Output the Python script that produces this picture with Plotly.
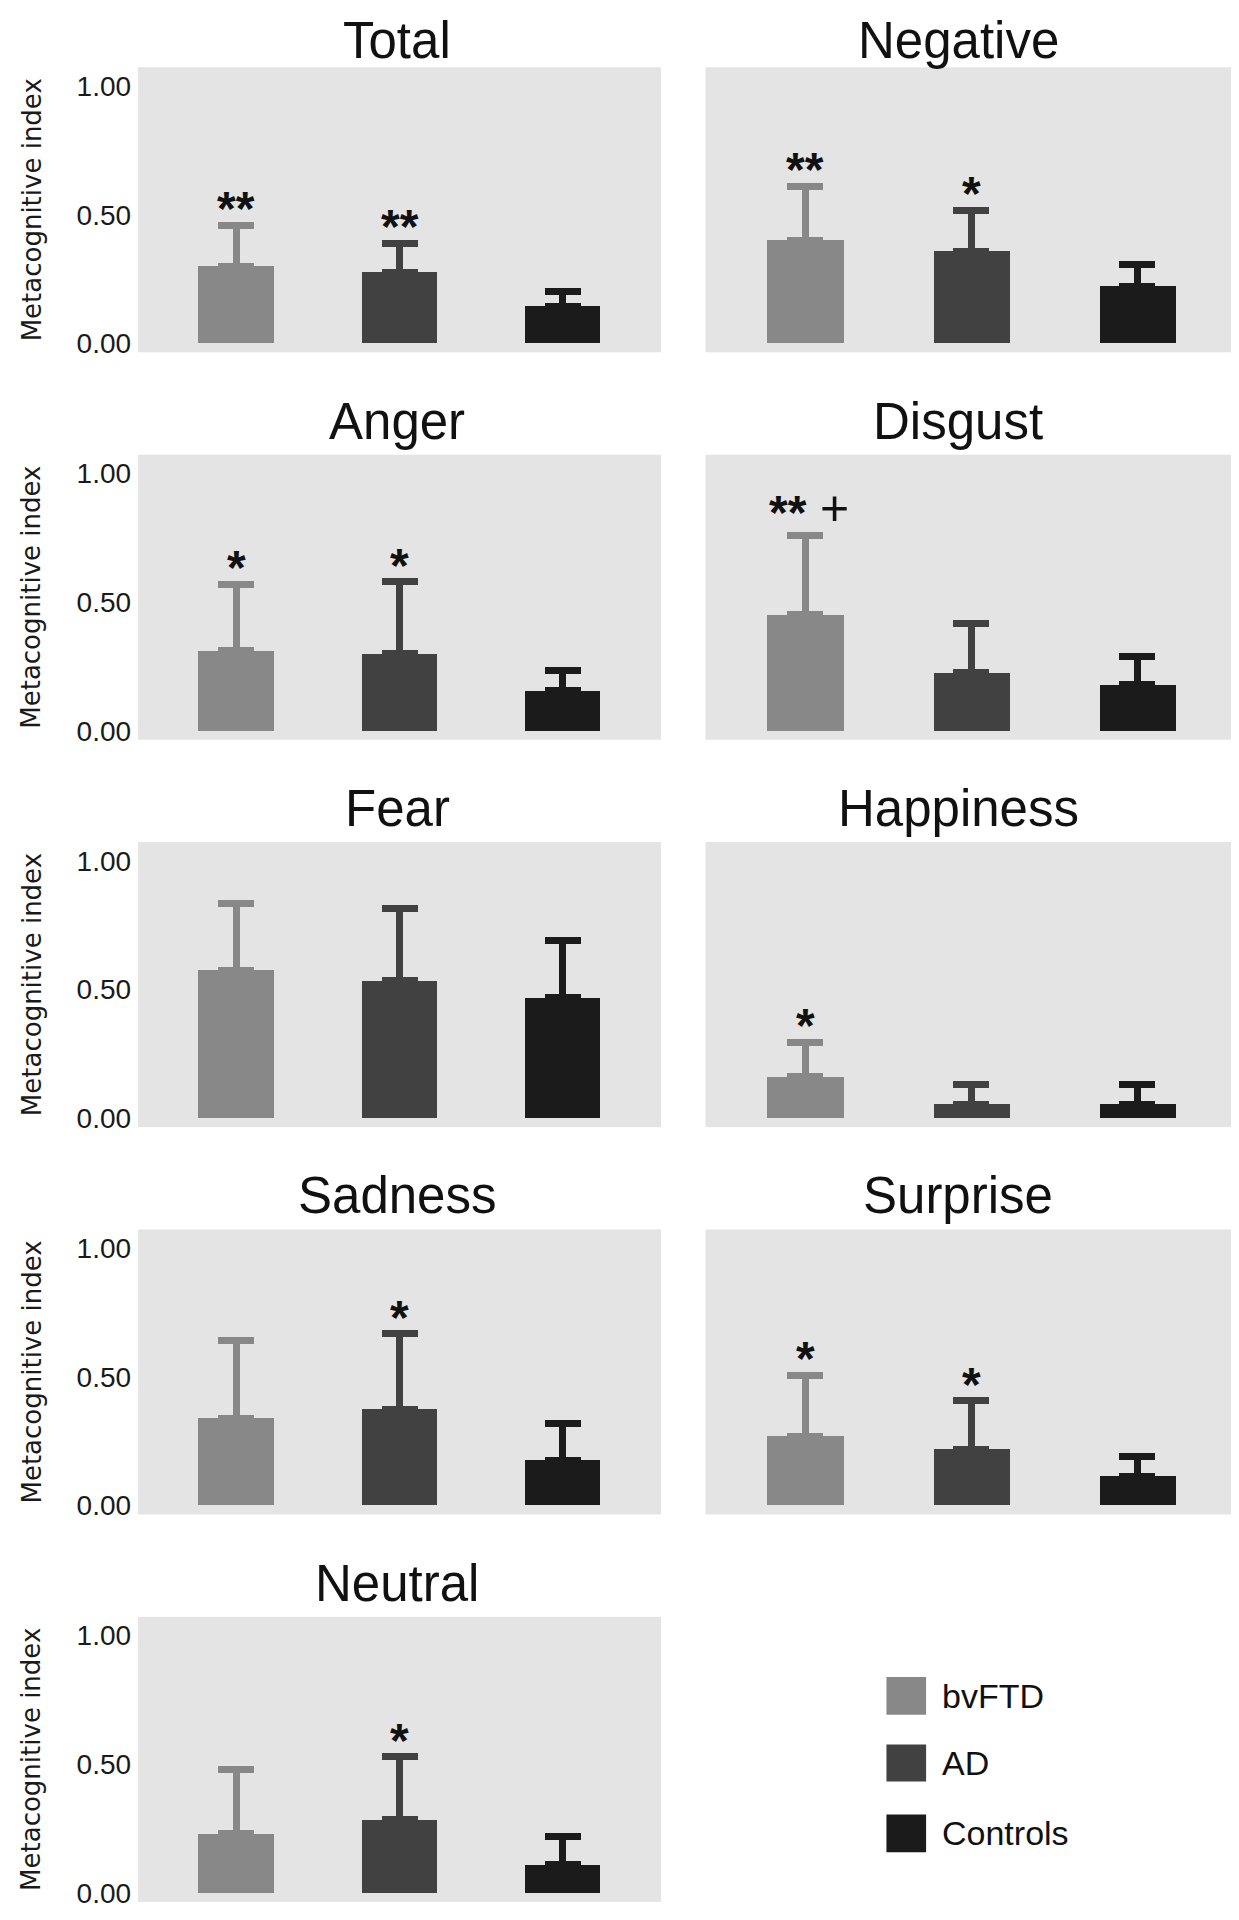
import plotly.graph_objects as go

# ---------------- data ----------------
categories = ["Total", "Negative", "Anger", "Disgust", "Fear",
              "Happiness", "Sadness", "Surprise", "Neutral"]
groups = ["bvFTD", "AD", "Controls"]

bvftd_mean = [0.30, 0.40, 0.31, 0.45, 0.575, 0.16, 0.34, 0.267, 0.23]
bvftd_err = [0.16, 0.21, 0.26, 0.31, 0.26, 0.135, 0.30, 0.24, 0.25]
ad_mean = [0.275, 0.357, 0.30, 0.225, 0.533, 0.053, 0.373, 0.218, 0.285]
ad_err = [0.115, 0.16, 0.28, 0.19, 0.28, 0.077, 0.295, 0.19, 0.245]
ctrl_mean = [0.145, 0.222, 0.156, 0.18, 0.467, 0.053, 0.175, 0.113, 0.11]
ctrl_err = [0.055, 0.085, 0.08, 0.11, 0.225, 0.077, 0.145, 0.078, 0.108]

bvftd_sig = ["**", "**", "*", "** +", "", "*", "", "*", ""]
ad_sig = ["**", "*", "*", "", "", "", "*", "*", "*"]
ctrl_sig = ["", "", "", "", "", "", "", "", ""]

tick_vals = [0, 0.5, 1.0]
tick_text = ["0.00", "0.50", "1.00"]
y_title = "Metacognitive index"

# ---------------- styles ----------------
colors = ["#888888", "#414141", "#1b1b1b"]
bg = "#e4e4e4"
means = [bvftd_mean, ad_mean, ctrl_mean]
errs = [bvftd_err, ad_err, ctrl_err]
sigs = [bvftd_sig, ad_sig, ctrl_sig]

col_x = [(0.105, 0.527), (0.563, 0.992)]
title_x = [0.314, 0.767]
row_top0 = 0.031
row_step = 0.2025
panel_h = 0.149

TITLE_FONT = "Liberation Sans, Arial, sans-serif"
TICK_FONT = "Liberation Sans, Arial, sans-serif"

fig = go.Figure()
layout = dict(
    width=1239, height=1920,
    margin=dict(l=0, r=0, t=0, b=0),
    paper_bgcolor="white",
    plot_bgcolor=bg,
    showlegend=False,
    bargap=0,
)
annotations = []
shapes = []

for i, cat in enumerate(categories):
    r, c = divmod(i, 2)
    k = i + 1
    xn = "x" if k == 1 else f"x{k}"
    yn = "y" if k == 1 else f"y{k}"
    top = row_top0 + r * row_step
    ydom = [1 - (top + panel_h), 1 - top]
    for j, g in enumerate(groups):
        fig.add_trace(go.Bar(
            x=[g], y=[means[j][i]],
            width=0.46,
            marker=dict(color=colors[j], line=dict(width=0)),
            error_y=dict(type="data", symmetric=False,
                         array=[errs[j][i]], arrayminus=[0],
                         color=colors[j], thickness=7, width=18),
            xaxis=xn, yaxis=yn, name=g, showlegend=False,
        ))
        s = sigs[j][i]
        if s:
            ytop = means[j][i] + errs[j][i]
            if "+" in s:
                stars = s.split("+")[0].strip()
                annotations.append(dict(
                    x=g, y=ytop, xref=xn, yref=yn,
                    text="<b>" + stars + "</b>", showarrow=False,
                    yanchor="bottom", yshift=-6, xshift=-17,
                    font=dict(family=TITLE_FONT, size=48, color="#111111"),
                ))
                annotations.append(dict(
                    x=g, y=ytop, xref=xn, yref=yn,
                    text="+", showarrow=False,
                    yanchor="bottom", yshift=-3, xshift=29,
                    font=dict(family=TITLE_FONT, size=50, color="#111111"),
                ))
            else:
                annotations.append(dict(
                    x=g, y=ytop, xref=xn, yref=yn,
                    text="<b>" + s + "</b>", showarrow=False,
                    yanchor="bottom", yshift=-12,
                    font=dict(family=TITLE_FONT, size=48, color="#111111"),
                ))
    layout["xaxis" if k == 1 else f"xaxis{k}"] = dict(
        domain=list(col_x[c]), anchor=yn, type="category",
        categoryorder="array", categoryarray=groups,
        range=[-0.6, 2.6], showticklabels=False, showgrid=False,
        zeroline=False, showline=False, ticks="", fixedrange=True,
    )
    layout["yaxis" if k == 1 else f"yaxis{k}"] = dict(
        domain=ydom, anchor=xn, range=[-0.035, 1.073],
        tickvals=tick_vals, ticktext=tick_text, showgrid=False,
        zeroline=False, showline=False, ticks="",
        showticklabels=(c == 0),
        tickfont=dict(family=TICK_FONT, size=28, color="#1a1a1a"),
        ticklabelstandoff=6,
    )
    if c == 0:
        annotations.append(dict(
            x=0.019, y=1 - (top + panel_h / 2), xref="paper", yref="paper",
            text=y_title, textangle=-90, showarrow=False,
            xanchor="center", yanchor="middle",
            font=dict(family="DejaVu Sans, sans-serif", size=26,
                      color="#1a1a1a"),
        ))
    # panel title
    ty = 1 - top + 0.0175 if r > 0 else 1 - 0.0168
    annotations.append(dict(
        x=title_x[c], y=ty, xref="paper", yref="paper",
        text=cat, showarrow=False, xanchor="center", yanchor="middle",
        borderpad=0,
        font=dict(family=TITLE_FONT, size=51, color="#111111"),
    ))

# legend (manual, large squares)
leg_y = [(0.8724, 0.8922), (0.9078, 0.9271), (0.9443, 0.9641)]
for j, g in enumerate(groups):
    y0, y1 = leg_y[j]
    shapes.append(dict(type="rect", xref="paper", yref="paper",
                       x0=0.709, x1=0.741, y0=1 - y1, y1=1 - y0,
                       fillcolor=colors[j], line=dict(width=0)))
    annotations.append(dict(
        x=0.752, y=1 - (y0 + y1) / 2, xref="paper", yref="paper",
        text=g, showarrow=False, xanchor="left", yanchor="middle",
        font=dict(family=TITLE_FONT, size=34, color="#111111"),
    ))

layout["annotations"] = annotations
layout["shapes"] = shapes
fig.update_layout(**layout)
fig.write_html("out.html")
